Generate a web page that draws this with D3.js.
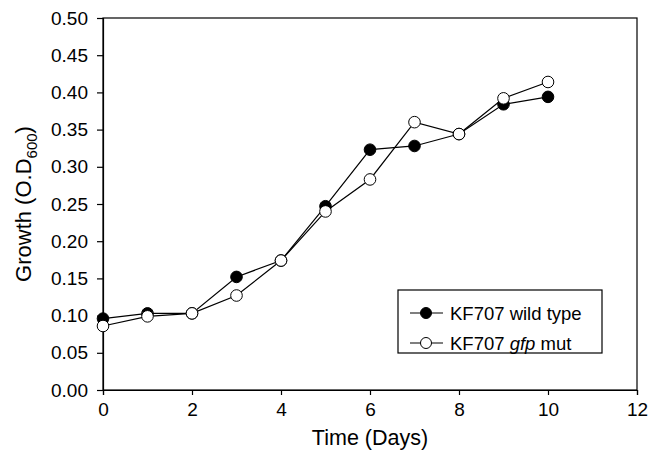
<!DOCTYPE html>
<html>
<head>
<meta charset="utf-8">
<script src="https://cdn.jsdelivr.net/npm/d3@7"></script>
<style>
  body { margin: 0; background: #fff; }
  text { font-family: "Liberation Sans", Arial, sans-serif; fill: #000; }
</style>
</head>
<body>
<div id="chart"></div>
<script>
// days and growth values
var days = [0, 1, 2, 3, 4, 5, 6, 7, 8, 9, 10];
var wild_type = [0.096, 0.103, 0.103, 0.152, 0.174, 0.247, 0.323, 0.328, 0.344, 0.384, 0.394];
var gfp_mut = [0.086, 0.099, 0.103, 0.127, 0.174, 0.240, 0.283, 0.360, 0.344, 0.392, 0.414];
var x_ticks = [0, 2, 4, 6, 8, 10, 12];
var y_ticks = [0, 0.05, 0.10, 0.15, 0.20, 0.25, 0.30, 0.35, 0.40, 0.45, 0.50];

var margin = { top: 18, right: 23, bottom: 62, left: 103 };
var width = 660 - margin.left - margin.right,
  height = 452 - margin.top - margin.bottom;

var svg = d3.select("#chart").append("svg")
  .attr("width", 660)
  .attr("height", 452)
  .append("g")
  .attr("transform", "translate(" + margin.left + "," + margin.top + ")");

var x = d3.scaleLinear().domain([0, 12]).range([0, width]);
var y = d3.scaleLinear().domain([0, 0.5]).range([height, 0]);

// frame
svg.append("rect")
  .attr("width", width)
  .attr("height", height)
  .attr("fill", "none")
  .attr("stroke", "#000")
  .attr("stroke-width", 1.2);

var xAxis = d3.axisBottom(x).tickValues(x_ticks).tickSize(5).tickPadding(8)
  .tickFormat(d3.format("d"));
var yAxis = d3.axisLeft(y).tickValues(y_ticks).tickSize(6).tickPadding(9)
  .tickFormat(d3.format(".2f"));

var gx = svg.append("g")
  .attr("transform", "translate(0," + height + ")")
  .call(xAxis);
var gy = svg.append("g").call(yAxis);

[gx, gy].forEach(function(g) {
  g.select(".domain").attr("stroke", "#000").attr("stroke-width", 1.2);
  g.selectAll(".tick line").attr("stroke", "#000").attr("stroke-width", 1.2);
  g.selectAll("text").style("font-size", "19px").attr("fill", "#000");
});

// axis titles
svg.append("text")
  .attr("x", width / 2)
  .attr("y", height + 55)
  .attr("text-anchor", "middle")
  .style("font-size", "21.5px")
  .text("Time (Days)");

var ytitle = svg.append("text")
  .attr("transform", "translate(-72," + (height / 2) + ") rotate(-90)")
  .attr("text-anchor", "middle")
  .style("font-size", "22px");
ytitle.append("tspan").text("Growth (O.D");
ytitle.append("tspan").attr("dy", 6).style("font-size", "15px").text("600");
ytitle.append("tspan").attr("dy", -6).text(")");

var line = d3.line()
  .x(function(d) { return x(d[0]); })
  .y(function(d) { return y(d[1]); });

var series = [
  { name: "wild", values: wild_type, fill: "#000" },
  { name: "gfp", values: gfp_mut, fill: "#fff" }
];

series.forEach(function(s) {
  var pts = days.map(function(d, i) { return [d, s.values[i]]; });
  svg.append("path")
    .datum(pts)
    .attr("d", line)
    .attr("fill", "none")
    .attr("stroke", "#000")
    .attr("stroke-width", 1.2);
});

series.forEach(function(s) {
  svg.selectAll(".pt-" + s.name)
    .data(days)
    .enter().append("circle")
    .attr("cx", function(d) { return x(d); })
    .attr("cy", function(d, i) { return y(s.values[i]); })
    .attr("r", 5.8)
    .attr("fill", s.fill)
    .attr("stroke", "#000")
    .attr("stroke-width", 1);
});

// legend
var legend = svg.append("g")
  .attr("transform", "translate(" + (398 - margin.left) + "," + (290 - margin.top) + ")");
legend.append("rect")
  .attr("width", 204)
  .attr("height", 63)
  .attr("fill", "#fff")
  .attr("stroke", "#000")
  .attr("stroke-width", 1.2);

var legend_rows = [
  { fill: "#000", parts: [["KF707 wild type", "normal"]] },
  { fill: "#fff", parts: [["KF707 ", "normal"], ["gfp", "italic"], [" mut", "normal"]] }
];
legend_rows.forEach(function(r, i) {
  var cy = 23 + i * 30;
  legend.append("line")
    .attr("x1", 12).attr("x2", 45)
    .attr("y1", cy).attr("y2", cy)
    .attr("stroke", "#000").attr("stroke-width", 1.2);
  legend.append("circle")
    .attr("cx", 28).attr("cy", cy).attr("r", 5.5)
    .attr("fill", r.fill).attr("stroke", "#000");
  var t = legend.append("text")
    .attr("x", 52).attr("y", cy + 7)
    .style("font-size", "18.5px");
  r.parts.forEach(function(p) {
    t.append("tspan").style("font-style", p[1]).text(p[0]);
  });
});
</script>
</body>
</html>
